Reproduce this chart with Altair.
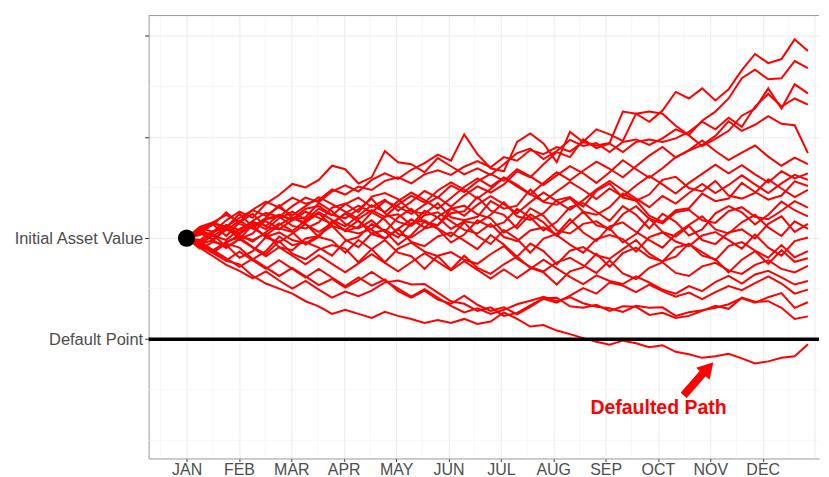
import json
import altair as alt
import pandas as pd

# ---------------- data ----------------
months = ["JAN", "FEB", "MAR", "APR", "MAY", "JUN", "JUL", "AUG", "SEP", "OCT", "NOV", "DEC"]
steps_per_month = 3.962            # time index units between month ticks
initial_value = 100
default_point = 80
y_labels = {80: "Default Point", 100: "Initial Asset Value", 120: "", 140: ""}
minor_y = [60, 70, 90, 110, 130]

p01 = [100, 101.5, 103, 102.2, 104, 105.5, 104.4, 106.2, 108, 106.8, 107.5, 109.6, 108.6, 110.2, 109.5, 111.3,
       112, 110.8, 112.6, 113.4, 112.5, 114.1, 115.2, 114, 116, 115.3, 117.4, 116.6, 118, 117.1, 119, 118.3,
       118.8, 125, 124.6, 123, 125.2, 128.9, 127.6, 129.6, 127.2, 129.4, 133.2, 136.4, 134.6, 135.4, 139.3, 137]
p02 = [100, 102, 101.2, 103.5, 105.2, 104, 106.8, 108.5, 110.7, 110, 111.5, 114.3, 113.6, 110.8, 112, 117.2,
       115, 114.6, 113, 115.8, 114.2, 112.6, 113.8, 112.5, 114.6, 116.8, 117.7, 115.6, 117.2, 119.4, 118.2, 118.8,
       117, 119, 119.5, 118.4, 119.7, 121.5, 120.4, 123.2, 125, 127.6, 131.6, 133.3, 131.4, 131.6, 135, 133.6]
p03 = [100, 99.2, 101, 102.6, 101.5, 103.4, 105, 104.2, 106.3, 108, 107.1, 109.2, 110.4, 109.2, 111.5, 112.8,
       111.7, 113.5, 114.8, 116.5, 115.3, 120.5, 116.6, 113.8, 113.2, 119, 120.7, 118.7, 115, 121, 119, 121.5,
       120.5, 119.2, 124.6, 125, 124.6, 122.2, 120.3, 118.2, 119.6, 121.2, 124.2, 125.6, 129.6, 125.6, 130.4, 128.6]
p04 = [100, 101.3, 100.4, 102.1, 101, 103.2, 102.4, 104.6, 103.5, 105.2, 104, 102.8, 104.9, 106.4, 105.1, 107.3,
       106.2, 104.8, 106.6, 108.1, 106.2, 108.4, 110.2, 109, 110.6, 113.2, 112, 114.6, 117, 116, 119.5, 117.8,
       118.7, 117, 119, 119.5, 119, 119.7, 121, 123, 121.5, 123.8, 122, 126, 128.5, 126, 127.6, 126.4]
p05 = [100, 98.8, 100.5, 99.6, 101.8, 103, 101.7, 103.9, 105.2, 103.6, 105.8, 104.5, 106.7, 108, 106.1, 107.6,
       105.4, 107.2, 109.3, 108, 110.4, 109.1, 111.2, 112.7, 111.3, 113.6, 112.2, 110.5, 112.4, 114.2, 112.8, 110.9,
       113, 115.4, 113.6, 111.9, 113.8, 116, 117.3, 118.4, 120.2, 123.1, 121.2, 122.4, 124.1, 122.6, 122.3, 116.8]
p06 = [100, 101.6, 103.1, 104.6, 103.2, 105.6, 107.2, 106, 104.5, 106.3, 108.1, 106.7, 105.2, 103.8, 105.5, 104.2,
       106.6, 108.4, 107, 109.4, 111, 109.6, 107.8, 109.7, 111.9, 110.2, 108.6, 110.9, 113, 111.4, 113.3, 115.1,
       113.7, 112, 114.2, 116.3, 118, 115.9, 117.4, 119.3, 117.2, 115.4, 116.9, 118.3, 116.1, 114.3, 115.9, 114.6]
p07 = [100, 99, 97.6, 99.1, 100.6, 99.3, 101.2, 102.9, 101.4, 103.5, 105.1, 103.6, 102.3, 104.4, 106.5, 105.1,
       107.3, 109, 107.5, 105.8, 107.9, 110.1, 111.8, 110.2, 112, 110.5, 108.7, 107.2, 109.2, 111.1, 109.5, 107.7,
       109.8, 108.2, 110.4, 112.3, 110.6, 108.8, 110.9, 112.7, 114.5, 112.8, 114.4, 112.6, 111, 113.2, 111.8, 112.8]
p08 = [100, 101, 99.8, 101.6, 103.4, 101.9, 100.5, 102.6, 104.1, 102.7, 101.2, 103, 104.8, 103.3, 101.6, 99.9,
       101.8, 103.7, 102.1, 104.2, 105.9, 104.4, 106.6, 108.3, 106.7, 104.9, 107.1, 109, 107.3, 105.6, 107.5, 109.6,
       111.3, 109.5, 107.8, 106.1, 108.3, 106.8, 108.9, 110.7, 108.9, 110.5, 112.4, 110.6, 108.9, 110.8, 112.5, 111.5]
p09 = [100, 100.6, 102.9, 102.1, 99.8, 100.9, 103.7, 104.2, 102.4, 101.9, 103.1, 106, 106.8, 105.1, 108.2, 108.9,
       107.7, 105.3, 104.8, 106.9, 104.1, 103.5, 104.2, 107.3, 105.8, 106.4, 109.6, 107.1, 106.6, 107.9, 105.2, 104.6,
       106.1, 108.8, 107.4, 104.4, 103.2, 105.5, 105.9, 108.8, 107.3, 107.8, 110.9, 109.1, 107.6, 108.4, 111.2, 110.3]
p10 = [100, 98.9, 99.5, 102.1, 100.3, 99.6, 100.9, 98.2, 97.6, 99.9, 100.4, 103.2, 101.5, 100.9, 101.8, 104.2,
       104.7, 102.6, 105.4, 104.1, 101.8, 103.3, 102.9, 104.6, 107.1, 104.3, 103.6, 104.9, 107.5, 108.1, 106.2, 109.3,
       110.8, 108, 107.4, 108.6, 111.5, 112.1, 109.9, 109.2, 111.3, 108.4, 107.8, 108.9, 111.6, 109.8, 108.1, 109.5]
p11 = [100, 101.3, 100.7, 98.2, 99.8, 102.6, 103.3, 101.9, 101.2, 98.7, 100.2, 103.4, 101.3, 102.2, 105.1, 103.6,
       100.8, 100.1, 101.9, 102.5, 105.8, 106.4, 104.7, 103.9, 101.1, 102.6, 105.9, 104.4, 101.5, 100.9, 102.8, 103.3,
       101.6, 104.7, 106.3, 103.8, 102.9, 105.1, 105.6, 103.5, 103, 105.3, 106.1, 104.2, 103.7, 105.4, 107.3, 106]
p12 = [100, 99.4, 97.2, 98.9, 98.1, 95.8, 97.4, 100.3, 98.6, 99.2, 98.1, 96.5, 99.4, 100.2, 102.8, 101.4,
       98.7, 100.6, 103.3, 101.8, 99.1, 100.7, 103.5, 102.2, 103.1, 105.8, 104.1, 101.5, 103.2, 106.1, 106.9, 105.2,
       103.4, 106.3, 104.6, 101.9, 104.8, 103.2, 100.5, 101.7, 104.9, 106.3, 105.1, 102.7, 104.6, 107.2, 105.5, 104.3]
p13 = [100, 101.2, 102.7, 100.4, 103.1, 104.8, 102.2, 101.7, 103.6, 104.1, 106.9, 105.3, 102.8, 101.9, 103.5, 101.2,
       104.1, 105.8, 103.1, 102.6, 104.9, 105.3, 108.1, 105.4, 104.6, 101.9, 104.7, 103.1, 100.4, 102.9, 105.2, 102.5,
       101.9, 99.1, 100.8, 103.9, 101.2, 100.3, 102.4, 99.6, 98.8, 101.1, 101.7, 99.9, 102.8, 104.3, 101.2, 102.8]
p14 = [100, 97.9, 99.2, 98.6, 96.1, 97.4, 100.2, 101.1, 99.6, 98.9, 100.6, 102.4, 99.7, 98.2, 100.9, 101.6,
       100.1, 102.9, 103.5, 101.9, 100.3, 103.1, 100.4, 98.8, 101.6, 99.8, 97.1, 99.9, 100.8, 103.7, 101.1, 99.4,
       102.3, 103.1, 101.2, 99.6, 98.1, 100.8, 102.6, 104.3, 101.7, 100.9, 103.1, 104.6, 102.1, 100.4, 103.3, 101.8]
p15 = [100, 101.9, 102.6, 105.1, 102.8, 101.9, 103.8, 104.6, 103.7, 105.8, 106.3, 104.6, 103.9, 105.7, 107.8, 104.9,
       103.2, 102.4, 104.5, 105.1, 103.3, 101.6, 100.9, 102.8, 100.2, 99.4, 101.5, 102.1, 100.6, 98.7, 97.1, 99.8,
       100.6, 99.8, 97.3, 100.2, 101.1, 99.3, 98.4, 100.5, 101.2, 99.6, 97.9, 100.7, 98.1, 96.5, 99.4, 100.1]
p16 = [100, 99.6, 101.4, 102.1, 104.8, 102.2, 104, 106.5, 103.9, 103.1, 104.9, 102.4, 101.6, 103.5, 100.8, 99.9,
       101.8, 99.2, 98.4, 100.3, 101.1, 99.5, 97.8, 100.6, 98.7, 96.3, 98.9, 97.4, 94.8, 97.5, 98.2, 96.6,
       95.9, 97.8, 99.6, 96.9, 95.3, 98.1, 98.8, 97.2, 95.6, 98.4, 99.2, 97.5, 96.1, 98.6, 96.2, 97.4]
p17 = [100, 98.3, 97.5, 99.3, 100.1, 98.2, 96.8, 99.4, 96.9, 95.8, 97.7, 98.6, 97.9, 95.2, 97.8, 99.6,
       97.1, 96.4, 93.9, 96.5, 97.2, 95.7, 94.9, 96.8, 98.4, 95.9, 94.3, 93.4, 95.2, 96.1, 94.6, 93.1,
       95.6, 93, 91.9, 94.1, 95.2, 93.1, 92.5, 94.4, 95.1, 93.6, 92.9, 94.7, 95.6, 93.9, 93.2, 94.5]
p18 = [100, 101.2, 99.6, 98, 99.8, 98.1, 96.4, 98.2, 96.5, 94.8, 96.6, 94.9, 93.2, 95, 96.8, 95.1,
       93.4, 95.2, 97, 95.3, 93.6, 95.4, 93.7, 92, 93.8, 92.1, 93.9, 95.7, 94, 92.3, 90.9, 92.6,
       91.5, 90.9, 92.4, 91.2, 89.8, 89, 90.5, 89.5, 91.3, 92.5, 91, 92.8, 93.5, 92.2, 90.8, 91.5]
p19 = [100, 98.9, 97.2, 95.6, 97.3, 95.6, 93.9, 95.6, 93.9, 92.2, 93.9, 92.2, 90.5, 92.2, 90.6, 91.8,
       89.5, 88.2, 89.6, 87.8, 87, 88.6, 86.8, 85.6, 86.3, 84.9, 86.4, 88, 87.2, 88.6, 90.1, 89,
       91.2, 90.6, 89.3, 90.8, 89.5, 88.4, 89.2, 87.9, 89.3, 90.5, 89.7, 91.1, 92.4, 91, 89, 89.8]
p20 = [100, 99.2, 97.6, 96, 94.3, 95.9, 94.2, 92.5, 94.1, 92.4, 90.7, 91.9, 90.2, 91.6, 93.3, 91.6,
       90, 88.4, 89.9, 88.2, 86.6, 85.3, 86.1, 85, 85.8, 86.9, 87.6, 88.4, 87.5, 88.3, 87.1, 86.4,
       86.1, 85.4, 86.6, 86.2, 86.3, 84.6, 85.3, 85.7, 86.2, 86.9, 88.1, 87.2, 88.3, 89.1, 86.2, 87.3]
p21 = [100, 98.1, 96.4, 94.7, 93.5, 92, 93.4, 91.6, 90, 91.5, 89.8, 88.2, 89.4, 88.5, 89.6, 91.2,
       91.6, 90.8, 90.9, 89.2, 87.5, 87, 85.6, 86.3, 84.6, 85.2, 86.7, 88.1, 88.2, 86.5, 86.2, 86.8,
       85.6, 86.5, 86.4, 84.8, 85.2, 84.2, 84.6, 85.6, 86.6, 86, 88.2, 87.4, 87.5, 86.2, 84, 84.5]
p22 = [100, 98.5, 97, 95.5, 94.8, 92.5, 91, 90, 89, 87.5, 86.5, 85, 85.8, 85, 84.2, 85.4,
       84.6, 84, 83.2, 83.8, 83.2, 84, 83, 83.5, 85.3, 84, 82.5, 82.8, 81.7, 81, 80.2, 79.5,
       78.9, 79.7, 79.2, 78.4, 78.8, 77.5, 77, 76.3, 76.6, 77.1, 76.2, 75.2, 75.6, 76.3, 76.6, 79]
p23 = [100, 102.2, 103.1, 101.6, 100.8, 102.5, 100.1, 99.2, 100.9, 102.8, 100.2, 99.5, 97.1, 99.6, 97.8, 95.2,
       97.9, 99.1, 97.3, 96.4, 93.8, 96.5, 94.1, 92.9, 94.8, 96.3, 94.1, 93.2, 90.8, 93.4, 94.2, 96.9,
       94.3, 97, 98.1, 96.2, 95.4, 96.3, 98.9, 96.5, 95.8, 93.2, 95.7, 97.4, 94.9, 97.6, 95.3, 96]

paths = [p01, p02, p03, p04, p05, p06, p07, p08, p09, p10, p11, p12,
         p13, p14, p15, p16, p17, p18, p19, p20, p21, p22, p23]

annotation_text = "Defaulted Path"
annotation_pos = {"step": 35.7, "value": 66.4}
arrow_shaft = {"step": [37.6, 39.1], "value": [68.9, 73.4]}
arrow_head = {"step": [39.45], "value": [74.3]}

# ---------------- build tables ----------------
rows = []
for i, p in enumerate(paths):
    for s, v in enumerate(p):
        rows.append({"path": i, "step": s, "value": v})
df = pd.DataFrame(rows)

month_ticks = [m * steps_per_month for m in range(len(months))]
minor_x = [(m + 0.5) * steps_per_month for m in range(-1, len(months))]
extra_major_x = [len(months) * steps_per_month]

PLOT_W = 672
X_DOMAIN = [-2.87, 47.84]
Y_DOMAIN = [56.4, 144.0]
xscale = alt.Scale(domain=X_DOMAIN, nice=False, zero=False)
yscale = alt.Scale(domain=Y_DOMAIN, nice=False, zero=False)

FONT = "Liberation Sans"
GRID = "#EBEBEB"
MINOR = "#F4F4F4"
BORDER = "#9A9A9A"

month_expr = json.dumps(months) + f"[round(datum.value / {steps_per_month})]"
ylab_expr = ("datum.value == 80 ? '" + y_labels[80] + "' : (datum.value == 100 ? '" +
             y_labels[100] + "' : '')")

xaxis = alt.Axis(values=month_ticks, labelExpr=month_expr, title=None, grid=True,
                 gridColor=GRID, gridWidth=1, domainColor=BORDER, tickColor="#333333",
                 tickSize=3, labelPadding=0, labelFont=FONT, labelFontSize=16,
                 labelColor="#4D4D4D")
yaxis = alt.Axis(values=list(y_labels.keys()), labelExpr=ylab_expr, title=None, grid=True,
                 gridColor=GRID, gridWidth=1, domainColor=BORDER, tickColor="#333333",
                 tickSize=4, labelPadding=2, labelFont=FONT, labelFontSize=16.5,
                 labelColor="#4D4D4D")

vminor = alt.Chart(pd.DataFrame({"x": minor_x})).mark_rule(color=MINOR, strokeWidth=0.8).encode(
    x=alt.X("x:Q", scale=xscale, axis=xaxis))
vextra = alt.Chart(pd.DataFrame({"x": extra_major_x})).mark_rule(color=GRID, strokeWidth=1).encode(
    x=alt.X("x:Q", scale=xscale))
hminor = alt.Chart(pd.DataFrame({"y": minor_y})).mark_rule(color=MINOR, strokeWidth=0.8).encode(
    y=alt.Y("y:Q", scale=yscale, axis=yaxis))
top_border = alt.Chart(pd.DataFrame({"y": [Y_DOMAIN[1]]})).mark_rule(color=BORDER, strokeWidth=1).encode(
    y=alt.Y("y:Q", scale=yscale))

lines = alt.Chart(df).mark_line(color="#FF0000", strokeWidth=2, clip=True).encode(
    x=alt.X("step:Q", scale=xscale),
    y=alt.Y("value:Q", scale=yscale),
    detail="path:N",
)

default_rule = alt.Chart(pd.DataFrame({"y": [default_point]})).mark_rule(
    color="black", strokeWidth=3.5).encode(y=alt.Y("y:Q", scale=yscale))

start_pt = alt.Chart(pd.DataFrame({"step": [0], "value": [initial_value]})).mark_circle(
    color="black", size=300, opacity=1).encode(
    x=alt.X("step:Q", scale=xscale), y=alt.Y("value:Q", scale=yscale))

label = alt.Chart(pd.DataFrame({"step": [annotation_pos["step"]], "value": [annotation_pos["value"]],
                                "t": [annotation_text]})).mark_text(
    font=FONT, fontSize=19.5, fontWeight="bold", color="#FF0000").encode(
    x=alt.X("step:Q", scale=xscale), y=alt.Y("value:Q", scale=yscale), text="t:N")

shaft = alt.Chart(pd.DataFrame(arrow_shaft)).mark_line(color="#FF0000", strokeWidth=8, strokeCap="butt").encode(
    x=alt.X("step:Q", scale=xscale), y=alt.Y("value:Q", scale=yscale))
head = alt.Chart(pd.DataFrame(arrow_head)).mark_point(shape="triangle-up", filled=True, size=330,
                                                       angle=42, color="#FF0000", opacity=1).encode(
    x=alt.X("step:Q", scale=xscale), y=alt.Y("value:Q", scale=yscale))

chart = alt.layer(vminor, vextra, hminor, top_border, lines, default_rule, start_pt, label, shaft, head).properties(
    width=PLOT_W, height=444,
    padding={"left": 5, "top": 6, "right": 0, "bottom": 0},
).configure_view(stroke=None)

chart.save("out.html", embed_options={"renderer": "svg", "actions": False})
